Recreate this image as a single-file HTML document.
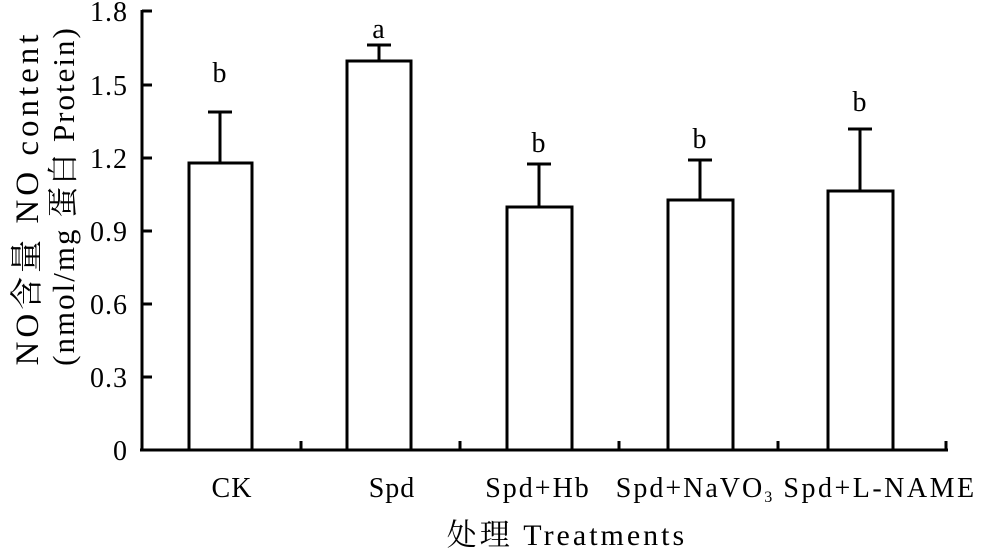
<!DOCTYPE html><html><head><style>body{margin:0;background:#fff}</style></head><body>
<svg width="981" height="550" xmlns="http://www.w3.org/2000/svg" font-family="Liberation Serif, Noto Serif CJK SC, serif" fill="#000">
<g stroke="#000" stroke-width="3" fill="none">
<line x1="142" y1="10" x2="142" y2="451"/>
<line x1="140" y1="450" x2="948" y2="450"/>
<line x1="142" y1="11" x2="152" y2="11"/><line x1="142" y1="85" x2="152" y2="85"/><line x1="142" y1="158" x2="152" y2="158"/><line x1="142" y1="231" x2="152" y2="231"/><line x1="142" y1="304" x2="152" y2="304"/><line x1="142" y1="377" x2="152" y2="377"/>
<line x1="301" y1="450" x2="301" y2="441"/><line x1="460" y1="450" x2="460" y2="441"/><line x1="619" y1="450" x2="619" y2="441"/><line x1="778" y1="450" x2="778" y2="441"/><line x1="946" y1="450" x2="946" y2="441"/>
<rect x="189" y="163" width="63" height="287"/>
<rect x="347" y="61" width="64" height="389"/>
<rect x="507" y="207" width="65" height="243"/>
<rect x="668" y="200" width="65" height="250"/>
<rect x="828" y="191" width="65" height="259"/>
<path d="M220 163V112M208 112H232M379 61V45M367 45H391M539 207V164M527 164H551M700 200V160M688 160H712M860 191V129M848 129H872"/>
</g>
<g font-size="28" text-anchor="end" letter-spacing="1">
<text x="128" y="21">1.8</text><text x="128" y="95">1.5</text><text x="128" y="168">1.2</text><text x="128" y="241">0.9</text><text x="128" y="314">0.6</text><text x="128" y="387">0.3</text><text x="128" y="460">0</text>
</g>
<g font-size="28" text-anchor="middle" letter-spacing="1">
<text x="220" y="82">b</text><text x="379" y="38">a</text><text x="539" y="152">b</text><text x="700" y="148">b</text><text x="860" y="111">b</text>
<text x="232" y="497">CK</text><text x="392" y="497">Spd</text><text x="538" y="497" letter-spacing="2">Spd+Hb</text>
<text x="695" y="497" letter-spacing="2">Spd+NaVO<tspan font-size="16" dy="5">3</tspan></text>
<text x="880" y="497" letter-spacing="2.5">Spd+L-NAME</text>
<text x="567" y="545" font-size="30" letter-spacing="3">处理 Treatments</text>
<text transform="translate(38,198) rotate(-90)" font-size="33" letter-spacing="4">NO含量 NO content</text>
<text transform="translate(74,196) rotate(-90)" font-size="31" letter-spacing="2">(nmol/mg 蛋白 Protein)</text>
</g>
</svg></body></html>
